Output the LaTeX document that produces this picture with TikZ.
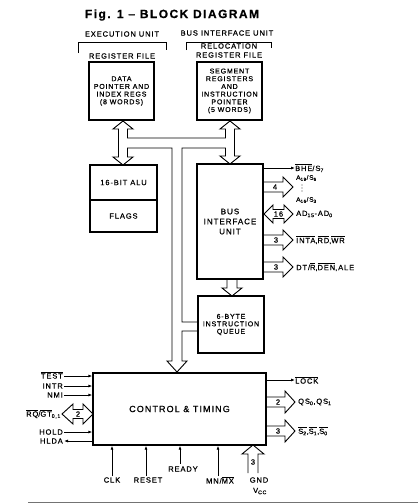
\documentclass[tikz,border=0pt]{standalone}
\usepackage{fontspec}
\setmainfont{Liberation Sans}[LetterSpace=12,FakeBold=0.7]
\usetikzlibrary{arrows.meta,calc}
\newcommand\ovl[1]{$\overline{\mbox{#1}}$}
\newcommand\sbs[1]{\textsubscript{#1}}
% right-pointing fat arrow: x0, y, tip x, head base x, shaft half width, head half width
\newcommand\fatR[6]{\draw[fat] ({#1},{#2-#5}) -- ({#4},{#2-#5}) -- ({#4},{#2-#6}) -- ({#3},{#2}) -- ({#4},{#2+#6}) -- ({#4},{#2+#5}) -- ({#1},{#2+#5});}
% double fat arrow: left tip, y, right tip, left base, right base, shaft hw, head hw
\newcommand\fatD[7]{\draw[fat] ({#1},{#2}) -- ({#4},{#2-#7}) -- ({#4},{#2-#6}) -- ({#5},{#2-#6}) -- ({#5},{#2-#7}) -- ({#3},{#2}) -- ({#5},{#2+#7}) -- ({#5},{#2+#6}) -- ({#4},{#2+#6}) -- ({#4},{#2+#7}) -- cycle;}
\begin{document}
\begin{tikzpicture}[x=1pt,y=-1pt,
  box/.style={draw,line width=1.3pt,inner sep=0pt,align=center,font=\fontsize{7}{7.7}\selectfont},
  lbl/.style={inner sep=0pt,font=\fontsize{7.5}{8}\selectfont},
  hdr/.style={inner sep=0pt,align=center,font=\fontsize{7.5}{9}\selectfont},
  sig/.style={line width=0.8pt,-{Latex[length=4pt,width=3pt]}},
  fat/.style={line width=0.9pt,line join=miter},
  num/.style={inner sep=0pt,font=\fontsize{7.5}{8}\selectfont}]
\path[use as bounding box] (0,0) rectangle (418,504);

% title and headers
\node[inner sep=0pt,font=\bfseries\fontsize{12}{12}\selectfont] (title) at (172,15) {Fig. 1 – BLOCK DIAGRAM};
\node[hdr] (eu) at (122,34) {EXECUTION UNIT};
\node[hdr] (bu) at (227,33) {BUS INTERFACE UNIT};
\draw[line width=0.9pt] (78,53) -- (78,42) -- (166,42) -- (166,50);
\draw[line width=0.9pt] (186,50) -- (186,42) -- (271,42) -- (271,48);
\node[hdr] (rf) at (122,56) {REGISTER FILE};
\node[hdr] (rrf) at (229,50.5) {RELOCATION\\REGISTER FILE};

% boxes
\node[box,minimum width=65pt,minimum height=58pt] (data) at (121.5,91) {DATA\\POINTER AND\\INDEX REGS\\(8 WORDS)};
\node[box,minimum width=65pt,minimum height=58pt] (seg) at (229.5,91) {SEGMENT\\REGISTERS\\AND\\INSTRUCTION\\POINTER\\(5 WORDS)};
\node[box,minimum width=67pt,minimum height=35pt,font=\fontsize{7.5}{8}\selectfont] (alu) at (123.5,182.5) {16-BIT ALU};
\node[box,minimum width=67pt,minimum height=32pt,font=\fontsize{7.5}{8}\selectfont] (flags) at (123.5,216) {FLAGS};
\node[box,minimum width=66pt,minimum height=115pt,font=\fontsize{8}{10}\selectfont] (biu) at (230,221.5) {BUS\\INTERFACE\\UNIT};
\node[box,minimum width=66pt,minimum height=57pt,font=\fontsize{7}{7.5}\selectfont] (queue) at (231,324.5) {6-BYTE\\INSTRUCTION\\QUEUE};
\node[box,minimum width=173pt,minimum height=72pt,font=\fontsize{9}{10}\selectfont] (ctl) at (179.5,409) {CONTROL \& TIMING};

% internal bus
\draw[fat] (123,121) -- (133,129) -- (127.5,129) -- (127.5,138) -- (225.5,138) -- (225.5,129) -- (220,129)
  -- (230,121) -- (240,129) -- (234.5,129) -- (234.5,156) -- (240,156) -- (230,164) -- (220,156)
  -- (225.5,156) -- (225.5,148) -- (182,148) -- (182,322) -- (198,322);
\draw[fat] (198,331) -- (182,331) -- (182,361) -- (187,361) -- (177,372) -- (167,361) -- (172,361)
  -- (172,148) -- (127.5,148) -- (127.5,157) -- (133,157) -- (123,165) -- (113,157) -- (118.5,157)
  -- (118.5,129) -- (113,129) -- (123,121);
% BIU to queue
\draw[fat] (227,279.5) -- (227,288) -- (222,288) -- (232,296) -- (242,288) -- (237,288) -- (237,279.5);

% BIU outputs
\node[lbl,anchor=west] (bhe) at (295,168) {\ovl{BHE}/S\sbs{7}};
\draw[sig] (biu.east |- bhe) -- (bhe.west);
\fatR{263}{187}{293}{283}{5}{10}
\node[num] (n4) at (275,187) {4};
\node[lbl,anchor=west,font=\fontsize{6.5}{7}\selectfont] (a19) at (296,178) {A\sbs{19}/S\sbs{6}};
\node[inner sep=0pt,align=center,font=\fontsize{5}{3}\selectfont] (dots) at (302,188) {.\\.\\.};
\node[lbl,anchor=west,font=\fontsize{6.5}{7}\selectfont] (a16) at (296,200) {A\sbs{16}/S\sbs{3}};
\fatD{264}{214}{293}{273}{284}{4.5}{9}
\node[num] (n16) at (278.5,214) {16};
\node[lbl,anchor=west] (ad) at (296,214) {AD\sbs{15}-AD\sbs{0}};
\fatR{263}{240}{293}{283}{5}{10}
\node[num] (n3a) at (276,240) {3};
\node[lbl,anchor=west] (inta) at (296,240) {\ovl{INTA},\ovl{RD},\ovl{WR}};
\fatR{263}{267}{293}{283}{5}{10}
\node[num] (n3b) at (276,267) {3};
\node[lbl,anchor=west] (dtr) at (296,267) {DT/\ovl{R},\ovl{DEN},ALE};

% control left inputs
\node[lbl,anchor=east] (test) at (63,375) {\ovl{TEST}};
\node[lbl,anchor=east] (intr) at (63,386) {INTR};
\node[lbl,anchor=east] (nmi) at (63,395) {NMI};
\node[lbl,anchor=east] (rqgt) at (61,414) {\ovl{RQ}/\ovl{GT}\sbs{0,1}};
\node[lbl,anchor=east] (hold) at (63,432) {HOLD};
\node[lbl,anchor=east] (hlda) at (63,441) {HLDA};
\draw[sig] (test.east) ++(1,1) -- ($(ctl.west |- test.east)+(0,1)$);
\draw[sig] (intr.east) ++(1,0) -- (ctl.west |- intr.east);
\draw[sig] (nmi.east) ++(1,0) -- (ctl.west |- nmi.east);
\draw[sig] (hold.east) ++(1,0) -- (ctl.west |- hold.east);
\draw[sig] (ctl.west |- hlda.east) -- ($(hlda.east)+(1,0)$);
\fatD{62}{414}{93}{73}{83}{4.5}{10}
\node[num] (n2l) at (78,414) {2};

% control right outputs
\node[lbl,anchor=west] (lock) at (295,380) {\ovl{LOCK}};
\draw[sig] (ctl.east |- lock.west) -- (lock.west);
\fatR{266}{402}{295}{285}{5}{11}
\node[num] (n2r) at (278,402) {2};
\node[lbl,anchor=west] (qs) at (298,402) {QS\sbs{0},QS\sbs{1}};
\fatR{266}{431}{295}{285}{5}{11}
\node[num] (n3c) at (278,431) {3};
\node[lbl,anchor=west] (ss) at (298,431) {\ovl{S\sbs{2}},\ovl{S\sbs{1}},\ovl{S\sbs{0}}};

% control bottom inputs
\node[lbl] (clk) at (112,480) {CLK};
\node[lbl] (reset) at (148,480) {RESET};
\node[lbl] (ready) at (183,469) {READY};
\node[lbl] (mnmx) at (220,480) {MN/\ovl{MX}};
\node[lbl] (gnd) at (259,480) {GND};
\node[lbl] (vcc) at (260,491) {V\sbs{CC}};
\coordinate (clkb) at (112,476);
\coordinate (rstb) at (146,476);
\coordinate (rdyb) at (180,464);
\coordinate (mnb) at (218,476);
\draw[sig] (clkb) -- (clkb |- ctl.south);
\draw[sig] (rstb) -- (rstb |- ctl.south);
\draw[sig] (rdyb) -- (rdyb |- ctl.south);
\draw[sig] (mnb) -- (mnb |- ctl.south);
\draw[fat] (248,473) -- (248,454) -- (242,454) -- (253,445) -- (264,454) -- (258,454) -- (258,473);
\node[num] (n3d) at (253,462) {3};

% bottom rule
\draw[line width=1.6pt,black!55] (28,502.5) -- (418,502.5);
\end{tikzpicture}
\end{document}
